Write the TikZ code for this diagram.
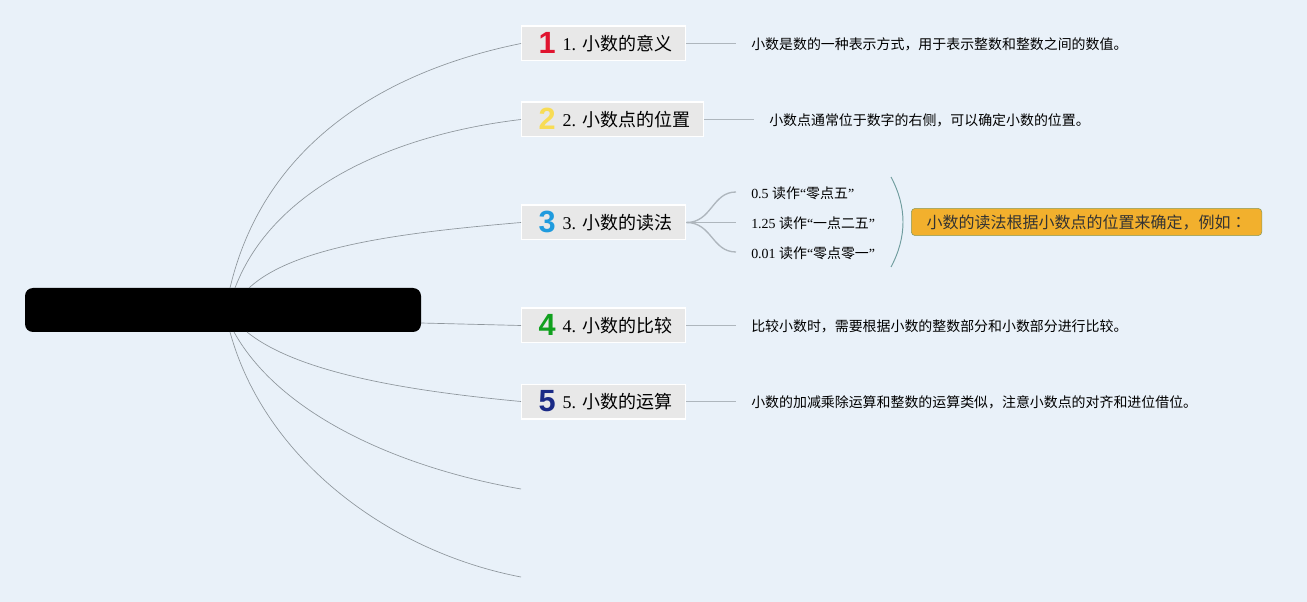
\documentclass[tikz,border=0pt]{standalone}
\usepackage{fontspec}
\setmainfont{Liberation Serif}
\newfontfamily\cjk{Noto Sans CJK SC}
\newfontfamily\cjkpunct{Noto Sans CJK JP}
\newfontfamily\iconfont{Liberation Sans}
\usetikzlibrary{calc}
\usetikzlibrary{positioning}
\definecolor{pagebg}{HTML}{E9F1F9}
\definecolor{topicbg}{HTML}{E8E8E8}
\definecolor{noteorange}{HTML}{F2B02D}
\definecolor{noteedge}{HTML}{8A9A5B}
\definecolor{linegray}{HTML}{8E969C}
\definecolor{leafgray}{HTML}{AEB6BD}
\definecolor{bracecolor}{HTML}{6F9C9E}
\definecolor{iconred}{HTML}{E0142F}
\definecolor{iconyellow}{HTML}{F8DC55}
\definecolor{iconblue}{HTML}{1F9BDE}
\definecolor{icongreen}{HTML}{10A01E}
\definecolor{iconnavy}{HTML}{1A2A86}
\newcommand{\ticon}[2]{\hspace{2.5pt}\raisebox{-2pt}[0pt][0pt]{\iconfont\fontsize{23}{23}\bfseries\textcolor{#1}{#2}}\hspace{5.2pt}}
\tikzstyle{root} = [fill=black, rectangle, rounded corners=6pt, inner sep=0pt,
    minimum height=33pt, minimum width=297pt]
\tikzstyle{topic} = [draw=white, line width=1pt, fill=topicbg, rectangle, anchor=west,
    minimum height=26pt, inner xsep=10.2pt, inner ysep=0pt, text height=12pt, text depth=1pt,
    font=\fontsize{13.5}{16}\selectfont]
\tikzstyle{leaf} = [anchor=west, inner sep=0pt, font=\fontsize{10.45}{13}\selectfont]
\tikzstyle{note} = [draw=noteedge, fill=noteorange, rectangle, rounded corners=3pt, anchor=west,
    minimum height=20.5pt, minimum width=263pt, inner sep=0pt, text=black!80,
    text height=11.4pt, text depth=1pt, font=\fontsize{12}{14}\selectfont]
\tikzstyle{branch} = [draw=linegray, line width=0.5pt]
\tikzstyle{stem} = [draw=leafgray, line width=1pt]
\begin{document}
\begin{tikzpicture}[x=0.75pt,y=-0.75pt]
    \useasboundingbox [fill=pagebg] (0,0) rectangle (1307,602);

    % We start by placing the blocks
    \node [root] (root) at (223,310) {};
    \node [topic] (meaning) at (521,43.5) {\ticon{iconred}{1}1. {\cjk 小数的意义}};
    \node [topic] (point) at (521,119.5) {\ticon{iconyellow}{2}2. {\cjk 小数点的位置}};
    \node [topic] (reading) at (521,222.5) {\ticon{iconblue}{3}3. {\cjk 小数的读法}};
    \node [topic] (compare) at (521,325.5) {\ticon{icongreen}{4}4. {\cjk 小数的比较}};
    \node [topic] (operate) at (521,401.5) {\ticon{iconnavy}{5}5. {\cjk 小数的运算}};

    % The leaves next to each block
    \node [leaf] (meaningleaf) at (751,44) {\cjk 小数是数的一种表示方式，用于表示整数和整数之间的数值。};
    \node [leaf] (pointleaf) at (769,120) {\cjk 小数点通常位于数字的右侧，可以确定小数的位置。};
    \node [leaf] (readone) at (751,193) {0.5 {\cjk 读作}“{\cjk 零点五}”};
    \node [leaf] (readtwo) at (751,223) {1.25 {\cjk 读作}“{\cjk 一点二五}”};
    \node [leaf] (readthree) at (751,253) {0.01 {\cjk 读作}“{\cjk 零点零一}”};
    \node [leaf] (compareleaf) at (751,326) {\cjk 比较小数时，需要根据小数的整数部分和小数部分进行比较。};
    \node [leaf] (operateleaf) at (751,402) {\cjk 小数的加减乘除运算和整数的运算类似，注意小数点的对齐和进位借位。};
    \node [note] (readnote) at (911,222) {\cjk 小数的读法根据小数点的位置来确定，例如{\cjkpunct ：}};

    % Free ends of the lines
    \coordinate (rootna) at (230,288);
    \coordinate (rootnb) at (235,288);
    \coordinate (rootnc) at (249,288);
    \coordinate (rootsa) at (230,332);
    \coordinate (rootsb) at (234,332);
    \coordinate (rootsc) at (247,332);
    \coordinate (rootea) at (421,323);
    \coordinate (emptyone) at (521,489);
    \coordinate (emptytwo) at (521,577);
    \coordinate (stemone) at (736,43.5);
    \coordinate (stemtwo) at (754,119.5);
    \coordinate (stemfour) at (736,325.5);
    \coordinate (stemfive) at (736,401.5);
    \coordinate (forkone) at (736,192);
    \coordinate (forktwo) at (736,222.5);
    \coordinate (forkthree) at (736,252);
    \coordinate (bracetop) at (891,177);
    \coordinate (bracebot) at (891,267);

    % Once the nodes are placed, connecting them is easy.
    \draw [branch] (rootna) .. controls (265,140) and (390,70) .. (meaning.west);
    \draw [branch] (rootnb) .. controls (272,190) and (390,135) .. (point.west);
    \draw [branch] (rootnc) .. controls (295,245) and (410,232) .. (reading.west);
    \draw [branch] (rootea) -- (compare.west);
    \draw [branch] (rootsc) .. controls (300,375) and (420,392) .. (operate.west);
    \draw [branch] (rootsb) .. controls (280,415) and (400,468) .. (emptyone);
    \draw [branch] (rootsa) .. controls (265,460) and (390,552) .. (emptytwo);

    \draw [stem] (meaning.east) -- (stemone);
    \draw [stem] (point.east) -- (stemtwo);
    \draw [stem] (compare.east) -- (stemfour);
    \draw [stem] (operate.east) -- (stemfive);
    \draw [stem] (reading.east) -- (forktwo);
    \draw [stem] (reading.east) .. controls (712,222.5) and (712,192) .. (forkone);
    \draw [stem] (reading.east) .. controls (712,222.5) and (712,252) .. (forkthree);

    \draw [draw=bracecolor, line width=0.7pt] (bracetop) .. controls (907,207) and (907,237) .. (bracebot);
\end{tikzpicture}
\end{document}
